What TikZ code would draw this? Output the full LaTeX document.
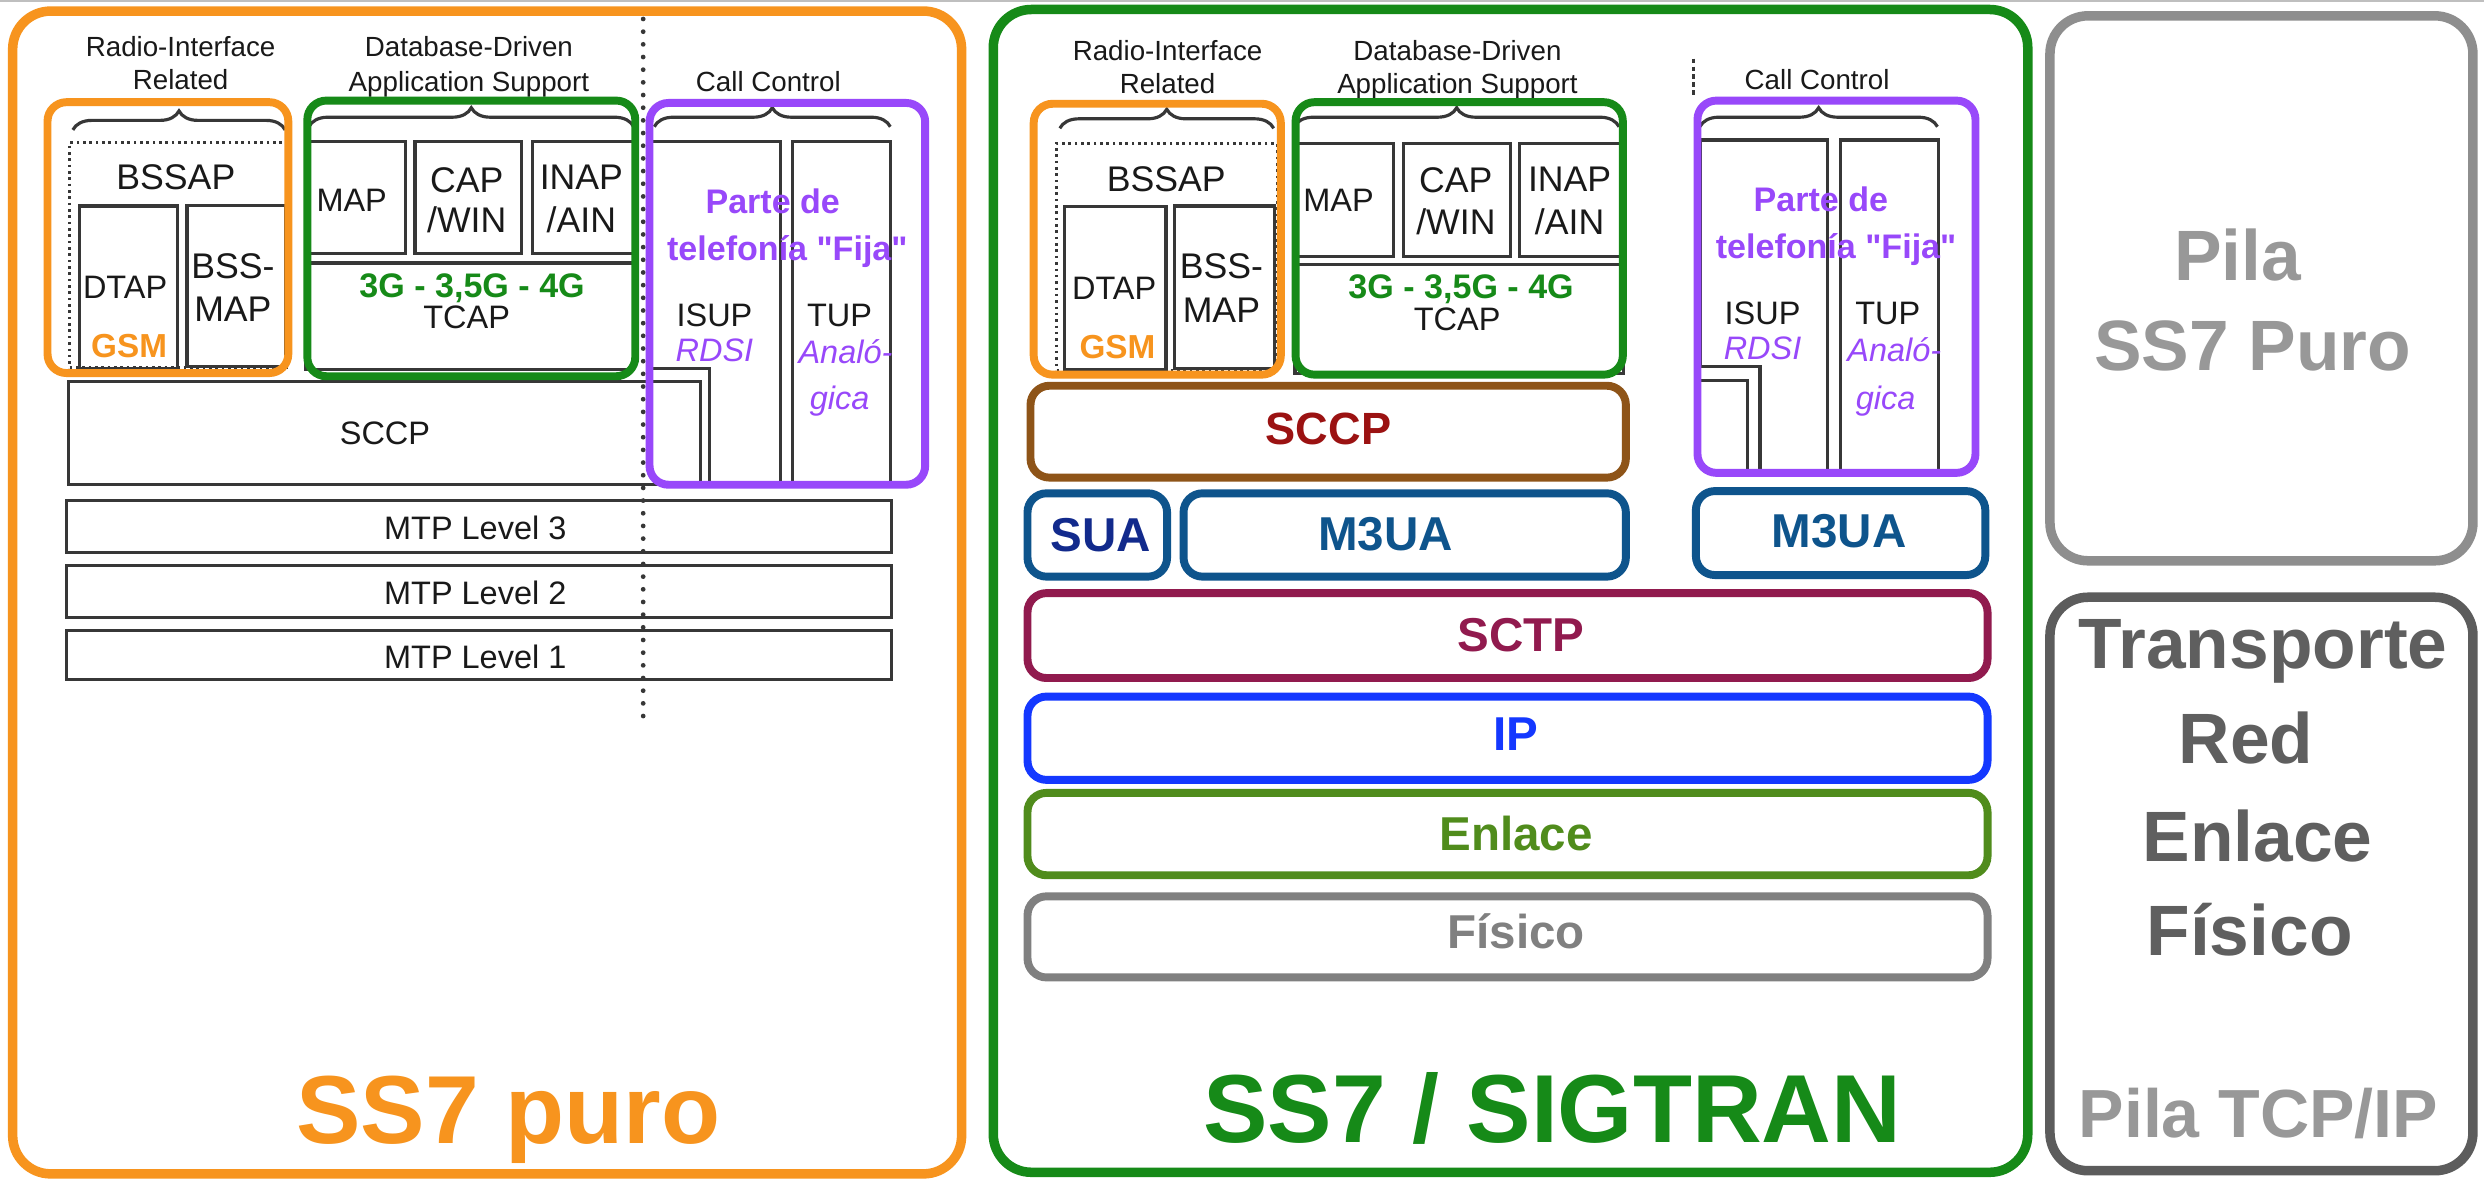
\documentclass[tikz,border=0pt]{standalone}
\usepackage{fontspec}
\setmainfont{Liberation Sans}[Ligatures=TeXOff]
\usetikzlibrary{fit,decorations.pathreplacing}
\definecolor{cOrange}{RGB}{247,148,30}
\definecolor{cGreen}{RGB}{22,138,24}
\definecolor{cPurple}{RGB}{152,72,250}
\definecolor{cBrown}{RGB}{142,84,24}
\definecolor{cSccp}{RGB}{155,18,18}
\definecolor{cBlue}{RGB}{14,84,140}
\definecolor{cNavy}{RGB}{18,42,140}
\definecolor{cSctp}{RGB}{145,26,78}
\definecolor{cIP}{RGB}{20,56,255}
\definecolor{cEnl}{RGB}{80,140,28}
\definecolor{cFis}{RGB}{128,128,128}
\definecolor{cStk}{RGB}{55,55,55}
\definecolor{cTxt}{RGB}{25,25,25}
\definecolor{cLight}{RGB}{142,142,142}
\definecolor{cLightT}{RGB}{152,152,152}
\definecolor{cDark}{RGB}{92,92,92}
\definecolor{cDarkT}{RGB}{95,95,95}
\begin{document}
\begin{tikzpicture}[x=0.5pt,y=-0.5pt,
  stk/.style={draw=cStk, line width=1pt, inner sep=0pt},
  stkl/.style={draw=cStk, line width=1pt},
  dotbox/.style={draw=cStk, line width=0.8pt, dash pattern=on 0.8pt off 1.2pt, inner sep=0pt},
  bigdots/.style={draw=cStk, line width=1.5pt, dash pattern=on 0pt off 4pt, line cap=round},
  finedash/.style={draw=cStk, line width=0.8pt, dash pattern=on 1.5pt off 1pt},
  cbox/.style={draw=#1, line width=2.5pt, rounded corners=6pt, inner sep=0pt},
  panel/.style={draw=#1, line width=3pt, rounded corners=12pt, inner sep=0pt},
  brc/.style={draw=cStk, line width=1pt, decorate, decoration={brace, amplitude=6pt}},
  hdr/.style={font=\fontsize{8.75}{10}\selectfont, text=cTxt, text height=6.3pt, text depth=0pt, inner sep=0pt},
  lab/.style={font=\fontsize{10.25}{12}\selectfont, text=cTxt, text height=7.35pt, text depth=0pt, inner sep=0pt},
  labL/.style={font=\fontsize{11.25}{13}\selectfont, text=cTxt, text height=8.05pt, text depth=0pt, inner sep=0pt},
  purB/.style={font=\bfseries\fontsize{10.75}{12}\selectfont, text=cPurple, text height=7.7pt, text depth=0pt, inner sep=0pt},
  purI/.style={font=\itshape\fontsize{10.25}{12}\selectfont, text=cPurple, text height=7.35pt, text depth=0pt, inner sep=0pt},
  gsmT/.style={font=\bfseries\fontsize{10.5}{12}\selectfont, text=cOrange, text height=7.5pt, text depth=0pt, inner sep=0pt},
  g3T/.style={font=\bfseries\fontsize{10.75}{12}\selectfont, text=cGreen, text height=7.7pt, text depth=0pt, inner sep=0pt},
  layerT/.style={font=\bfseries\fontsize{15}{18}\selectfont, text=#1, text height=10.75pt, text depth=0pt, inner sep=0pt},
  titleT/.style={font=\bfseries\fontsize{30.5}{36}\selectfont, text=#1, anchor=base, inner sep=0pt},
  sideT/.style={font=\bfseries\fontsize{22.5}{27}\selectfont, text=#1, anchor=base, inner sep=0pt},
]
\useasboundingbox (0,0) rectangle (1568,747);
\fill[white] (0,0) rectangle (1568,747);
\draw[black!25, line width=0.6pt] (0,0.6) -- (1568,0.6);

% ---------------- outer panels
\node[panel=cOrange, fit={(8,7) (607,741)}] (pOrange) {};
\node[panel=cGreen, fit={(627,6) (1280,740)}] (pGreen) {};
\node[panel=cLight, fit={(1294,10) (1561,354)}] (pSS7) {};
\node[panel=cDark, fit={(1294,377) (1561,739)}] (pTCP) {};

% ================= LEFT PANEL: pure SS7 stack
\node[hdr] (lh1a) at (114,29.5) {Radio-Interface};
\node[hdr] (lh1b) at (114,50.5) {Related};
\node[hdr] (lh2a) at (296,29.5) {Database-Driven};
\node[hdr] (lh2b) at (296,51.5) {Application Support};
\node[hdr] (lh3) at (485,51.5) {Call Control};

\coordinate (ldA) at (406,12);
\coordinate (ldB) at (406,452);
\draw[bigdots] (ldA) -- (ldB);

\draw[brc] (46,82) -- (180,82);
\draw[brc] (195,80) -- (400,80);
\draw[brc] (413,80) -- (562,80);

\node[dotbox, fit={(44,90) (182,232)}] (lbssapD) {};
\node[stk, fit={(50,130) (112,232.5)}] (ldtap) {};
\node[stk, fit={(118,129.5) (180,231.5)}] (lbssmap) {};
\node[stk, fit={(193,89.5) (256,160)}] (lmap) {};
\node[stk, fit={(262,89.5) (329,160)}] (lcap) {};
\node[stk, fit={(336,89.5) (400,160)}] (linap) {};
\node[stk, fit={(193,166) (400,233.5)}] (ltcap) {};
\draw[stkl] (411,89.4) -- (492.5,89.4) -- (492.5,305) -- (448,305) -- (448,232.5) -- (411,232.5) -- cycle;
\node[stk, fit={(500,89.4) (562,305)}] (ltup) {};
\node[stk, fit={(43,241) (442,306)}] (lsccp) {};
\node[stk, fit={(42,316) (563,349)}] (lmtp3) {};
\node[stk, fit={(42,357) (563,390)}] (lmtp2) {};
\node[stk, fit={(42,398) (563,429)}] (lmtp1) {};

\node[labL] (tlbssap) at (111,111.5) {BSSAP};
\node[lab] (tldtap) at (79,181) {DTAP};
\node[gsmT] (tlgsm) at (81.5,218) {GSM};
\node[labL] (tlbss1) at (147,168) {BSS-};
\node[labL] (tlbss2) at (147,195) {MAP};
\node[lab] (tlmap) at (222,126) {MAP};
\node[labL] (tlcap1) at (294.6,113.6) {CAP};
\node[labL] (tlcap2) at (294.6,139) {/WIN};
\node[labL] (tlinap1) at (367,111.5) {INAP};
\node[labL] (tlinap2) at (367,139) {/AIN};
\node[g3T] (tlg3) at (298,180) {3G - 3,5G - 4G};
\node[lab] (tltcap) at (294.6,200) {TCAP};
\node[lab] (tlsccp) at (243,273.5) {SCCP};
\node[lab] (tlmtp3) at (300,333.5) {MTP Level 3};
\node[lab] (tlmtp2) at (300,374) {MTP Level 2};
\node[lab] (tlmtp1) at (300,414.5) {MTP Level 1};
\node[purB] (tlparte) at (487.8,127.3) {Parte de};
\node[purB] (tltele) at (497,156.7) {telefonía "Fija"};
\node[lab] (tlisup) at (451,199) {ISUP};
\node[purI] (tlrdsi) at (451,221) {RDSI};
\node[lab] (tltup) at (530,199) {TUP};
\node[purI] (tlanal) at (533.7,222) {Analó-};
\node[purI] (tlgica) at (530,251.4) {gica};

\node[cbox=cOrange, fit={(30,64.5) (182,235.5)}] (lRadio) {};
\node[cbox=cGreen, fit={(194,63.5) (401,237.5)}] (lData) {};
\node[cbox=cPurple, fit={(410,65) (584,306)}] (lCall) {};

\node[titleT=cOrange] (tSS7puro) at (321,722) {SS7 puro};

% ================= MIDDLE PANEL: SS7 / SIGTRAN
\node[hdr] (mh1a) at (737,31.6) {Radio-Interface};
\node[hdr] (mh1b) at (737,52.6) {Related};
\node[hdr] (mh2a) at (920,31.6) {Database-Driven};
\node[hdr] (mh2b) at (920,52.6) {Application Support};
\node[hdr] (mh3) at (1147,50.5) {Call Control};

\coordinate (mdA) at (1069,37);
\coordinate (mdB) at (1069,61);
\draw[finedash] (mdA) -- (mdB);

\draw[brc] (669,81) -- (804,81);
\draw[brc] (817,80) -- (1022,80);
\draw[brc] (1073,80) -- (1223,80);

\node[dotbox, fit={(667,90.5) (806,233.5)}] (mbssapD) {};
\node[stk, fit={(672,130.4) (736,233.5)}] (mdtap) {};
\node[stk, fit={(741.3,130) (804.6,232.5)}] (mbssmap) {};
\node[stk, fit={(817.4,90.5) (879.5,162)}] (mmap) {};
\node[stk, fit={(886,90.5) (953.5,162)}] (mcap) {};
\node[stk, fit={(959,90.5) (1024.6,162)}] (minap) {};
\node[stk, fit={(817.4,167) (1024.6,235.6)}] (mtcap) {};
\draw[stkl] (1073.3,88.4) -- (1153.5,88.4) -- (1153.5,297) -- (1111,297) -- (1111,231.4) -- (1073.3,231.4) -- cycle;
\draw[stkl] (1073.3,240) -- (1103,240) -- (1103,297);
\node[stk, fit={(1162,88.4) (1223.7,297)}] (mtup) {};

\node[labL] (tmbssap) at (736.2,112.6) {BSSAP};
\node[lab] (tmdtap) at (703.3,182) {DTAP};
\node[gsmT] (tmgsm) at (705.4,218.8) {GSM};
\node[labL] (tmbss1) at (771,168) {BSS-};
\node[labL] (tmbss2) at (771,195.7) {MAP};
\node[lab] (tmmap) at (844.9,126) {MAP};
\node[labL] (tmcap1) at (919,113.6) {CAP};
\node[labL] (tmcap2) at (919,140) {/WIN};
\node[labL] (tminap1) at (990.8,112.6) {INAP};
\node[labL] (tminap2) at (990.8,140) {/AIN};
\node[g3T] (tmg3) at (922.3,181) {3G - 3,5G - 4G};
\node[lab] (tmtcap) at (919.8,201) {TCAP};
\node[purB] (tmparte) at (1149.4,126) {Parte de};
\node[purB] (tmtele) at (1159,155.7) {telefonía "Fija"};
\node[lab] (tmisup) at (1112.6,197.8) {ISUP};
\node[purI] (tmrdsi) at (1112.6,219.9) {RDSI};
\node[lab] (tmtup) at (1191.6,197.8) {TUP};
\node[purI] (tmanal) at (1195.8,221) {Analó-};
\node[purI] (tmgica) at (1190.3,251.4) {gica};

\node[cbox=cOrange, fit={(652.5,65.5) (808.5,236.5)}] (mRadio) {};
\node[cbox=cGreen, fit={(817.8,64.5) (1024.4,236.5)}] (mData) {};
\node[cbox=cPurple, fit={(1071.5,63.5) (1247,298.5)}] (mCall) {};

\node[cbox=cBrown, fit={(650.5,243.5) (1026.3,301.5)}] (mSCCP) {};
\node[layerT=cSccp, font=\bfseries\fontsize{14.25}{17}\selectfont, text height=10.2pt] (tmsccp) at (838.6,270.4) {SCCP};

\node[cbox=cBlue, fit={(648.6,311.4) (736.7,364)}] (mSUA) {};
\node[layerT=cNavy] (tmsua) at (694.7,337.2) {SUA};
\node[cbox=cBlue, fit={(747.1,311.4) (1026.3,364)}] (mM3UA) {};
\node[layerT=cBlue] (tmm3ua) at (874.6,337) {M3UA};
\node[cbox=cBlue, fit={(1070.5,310) (1253.2,363)}] (mM3UAr) {};
\node[layerT=cBlue] (tmm3uar) at (1161,335) {M3UA};

\node[cbox=cSctp, fit={(648.6,374.4) (1254.6,428)}] (mSCTP) {};
\node[layerT=cSctp] (tmsctp) at (960.3,400.2) {SCTP};
\node[cbox=cIP, fit={(648.6,439.7) (1254.6,492.3)}] (mIP) {};
\node[layerT=cIP] (tmip) at (957,463.2) {IP};
\node[cbox=cEnl, fit={(648.6,500.5) (1254.6,552.5)}] (mEnl) {};
\node[layerT=cEnl] (tmenl) at (957,526) {Enlace};
\node[cbox=cFis, fit={(648.6,565.8) (1254.6,617)}] (mFis) {};
\node[layerT=cFis] (tmfis) at (957,588.2) {Físico};

\node[titleT=cGreen] (tSigtran) at (980,721) {SS7 / SIGTRAN};

% ================= RIGHT PANELS
\node[sideT=cLightT] (tPila) at (1412.6,177) {Pila};
\node[sideT=cLightT] (tSS7Puro) at (1422,234) {SS7 Puro};
\node[sideT=cDarkT] (tTrans) at (1428.6,422) {Transporte};
\node[sideT=cDarkT] (tRed) at (1417.8,482) {Red};
\node[sideT=cDarkT] (tEnl) at (1425,544) {Enlace};
\node[sideT=cDarkT] (tFis) at (1420,603) {Físico};
\node[sideT=cLightT, font=\bfseries\fontsize{21.5}{26}\selectfont] (tPilaTCP) at (1425.6,718) {Pila TCP/IP};
\end{tikzpicture}
\end{document}
